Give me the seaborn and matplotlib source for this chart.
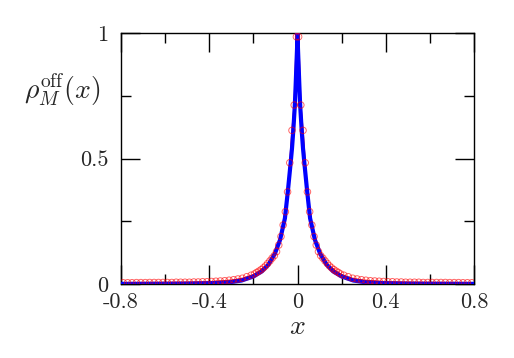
import numpy as np
import pandas as pd
import matplotlib
matplotlib.use('Agg')
import matplotlib.pyplot as plt
import seaborn as sns

# ── Data (right half; curves are symmetric in x) ────────────────────────────
blue_x = [0.0, 0.002, 0.005, 0.008, 0.012, 0.019, 0.025, 0.031, 0.044, 0.057,
          0.079, 0.102, 0.132, 0.162, 0.200, 0.253, 0.314, 0.400, 0.500, 0.600,
          0.700, 0.800]
blue_y = [1.000, 0.940, 0.870, 0.800, 0.713, 0.612, 0.540, 0.483, 0.367, 0.262,
          0.176, 0.122, 0.077, 0.050, 0.030, 0.014, 0.006, 0.003, 0.0015, 0.001,
          0.0008, 0.0006]

red_x = [0.0, 0.005, 0.015, 0.025, 0.035, 0.045, 0.065, 0.085, 0.105, 0.140,
         0.178, 0.200, 0.250, 0.300, 0.400, 0.500, 0.600, 0.700, 0.800]
red_y = [1.000, 0.985, 0.713, 0.612, 0.483, 0.367, 0.235, 0.155, 0.113, 0.076,
         0.049, 0.037, 0.022, 0.015, 0.009, 0.007, 0.006, 0.0055, 0.005]

circ_x = [0.005, 0.015, 0.025, 0.035, 0.045, 0.055, 0.065, 0.075, 0.085, 0.095,
          0.105, 0.115, 0.125, 0.135, 0.145, 0.155, 0.165, 0.175, 0.185, 0.195,
          0.21, 0.23, 0.25, 0.27, 0.29, 0.31, 0.33, 0.35, 0.37, 0.39,
          0.41, 0.43, 0.45, 0.47, 0.49, 0.51, 0.53, 0.55, 0.57, 0.59,
          0.61, 0.63, 0.65, 0.67, 0.69, 0.71, 0.73, 0.75, 0.77, 0.79]
circ_y = [0.985, 0.713, 0.612, 0.483, 0.367, 0.288, 0.235, 0.189, 0.155, 0.129,
          0.113, 0.103, 0.092, 0.082, 0.072, 0.064, 0.057, 0.051, 0.046, 0.040,
          0.035, 0.029, 0.023, 0.020, 0.017, 0.015, 0.013, 0.012, 0.011, 0.010,
          0.009, 0.009, 0.008, 0.008, 0.007, 0.007, 0.007, 0.007, 0.006, 0.006,
          0.006, 0.006, 0.006, 0.006, 0.0055, 0.0055, 0.0055, 0.005, 0.005, 0.005]

x_major = [-0.8, -0.4, 0.0, 0.4, 0.8]
x_major_labels = ['-0.8', '-0.4', '0', '0.4', '0.8']
x_minor = [-0.6, -0.2, 0.2, 0.6]
y_major = [0.0, 0.5, 1.0]
y_major_labels = ['0', '0.5', '1']
y_minor = [0.25, 0.75]


def mirror(xs, ys):
    xs = np.asarray(xs, dtype=float)
    ys = np.asarray(ys, dtype=float)
    if xs[0] == 0.0:
        return np.concatenate([-xs[:0:-1], xs]), np.concatenate([ys[:0:-1], ys])
    return np.concatenate([-xs[::-1], xs]), np.concatenate([ys[::-1], ys])


bx, by = mirror(blue_x, blue_y)
rx, ry = mirror(red_x, red_y)
cx, cy = mirror(circ_x, circ_y)

blue_df = pd.DataFrame({'x': bx, 'y': by})
red_df = pd.DataFrame({'x': rx, 'y': ry})
circ_df = pd.DataFrame({'x': cx, 'y': cy})

# ── Style ───────────────────────────────────────────────────────────────────
sns.set_style('ticks')
plt.rcParams['font.family'] = ['cmr10', 'DejaVu Serif']
plt.rcParams['mathtext.fontset'] = 'cm'
plt.rcParams['axes.unicode_minus'] = False

fig = plt.figure(figsize=(5.14, 3.58), dpi=100)
ax = fig.add_axes([0.2354, 0.2067, 0.6868, 0.7011])

sns.lineplot(data=red_df, x='x', y='y', ax=ax, color='red', lw=1.0,
             sort=False, zorder=2)
sns.lineplot(data=blue_df, x='x', y='y', ax=ax, color='#0000ff', lw=3.0,
             sort=False, zorder=3)
sns.scatterplot(data=circ_df, x='x', y='y', ax=ax, marker='o', s=22,
                facecolors='none', edgecolor='red', linewidth=0.7,
                alpha=0.6, zorder=4)

ax.set_xlim(-0.8, 0.8)
ax.set_ylim(0, 1)
ax.set_xticks(x_major)
ax.set_xticklabels(x_major_labels)
ax.set_xticks(x_minor, minor=True)
ax.set_yticks(y_major)
ax.set_yticklabels(y_major_labels)
ax.set_yticks(y_minor, minor=True)

ax.tick_params(which='both', direction='in', top=True, right=True,
               labelsize=16, color='black', width=1.0)
ax.tick_params(which='major', length=14)
ax.tick_params(which='minor', length=7)
ax.tick_params(axis='x', which='major', pad=6)
ax.tick_params(axis='y', which='major', pad=9)
for s in ax.spines.values():
    s.set_linewidth(1.0)
    s.set_color('black')

ax.set_xlabel('$x$', fontsize=20, labelpad=1)
ax.set_ylabel('')
fig.text(62 / 514, 1 - 90 / 358, r'$\rho_M^{\mathrm{off}}(x)$', fontsize=20,
         ha='center', va='center')

fig.savefig('out.png', dpi=100)
